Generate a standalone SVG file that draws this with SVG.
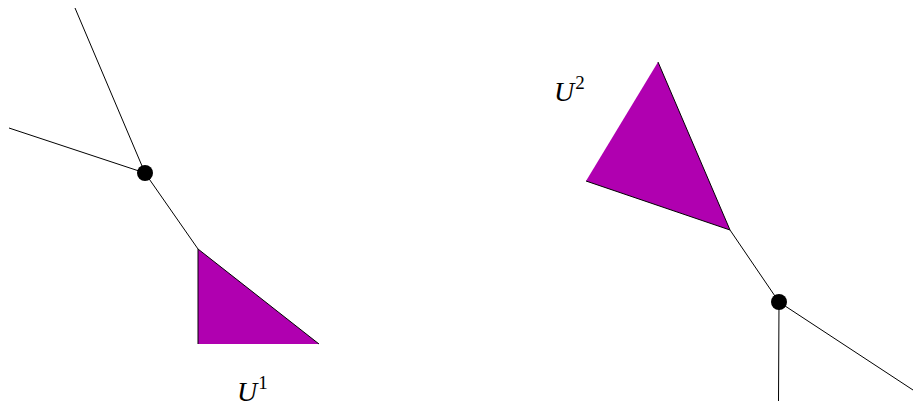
<svg xmlns="http://www.w3.org/2000/svg" width="913" height="401" viewBox="0 0 913 401">
<style>
.ln{stroke:#000;stroke-width:1;fill:none}
.tri{fill:#B000B0;stroke:none}
.dot{fill:#000}
.lbl{font-family:"Liberation Serif",serif;font-style:italic;font-size:28px;fill:#000}
.sup{font-family:"Liberation Serif",serif;font-size:19px;fill:#000}
</style>
<rect width="913" height="401" fill="#fff"/>
<g id="connectors">
<line class="ln" x1="75" y1="8" x2="145" y2="173"/>
<line class="ln" x1="9" y1="128" x2="145" y2="173"/>
<line class="ln" x1="145" y1="173" x2="198" y2="249"/>
<line class="ln" x1="730" y1="230" x2="779" y2="302"/>
<line class="ln" x1="779" y1="302" x2="778.5" y2="401"/>
<line class="ln" x1="779" y1="302" x2="913" y2="390"/>
</g>
<g id="U1">
<polygon class="tri" points="198,249 198,344 319,344"/>
<polyline class="ln" points="198,344 198,249 319,344"/>
<text x="237" y="401"><tspan class="lbl">U</tspan><tspan class="sup" dx="1" dy="-12">1</tspan></text>
</g>
<g id="U2">
<polygon class="tri" points="658,62 586,181 730,230"/>
<polyline class="ln" points="658,62 730,230 586,181"/>
<text x="554" y="101"><tspan class="lbl">U</tspan><tspan class="sup" dx="1" dy="-12">2</tspan></text>
</g>
<g id="node1"><circle class="dot" cx="145" cy="173" r="8"/></g>
<g id="node2"><circle class="dot" cx="779" cy="302" r="8"/></g>
</svg>
